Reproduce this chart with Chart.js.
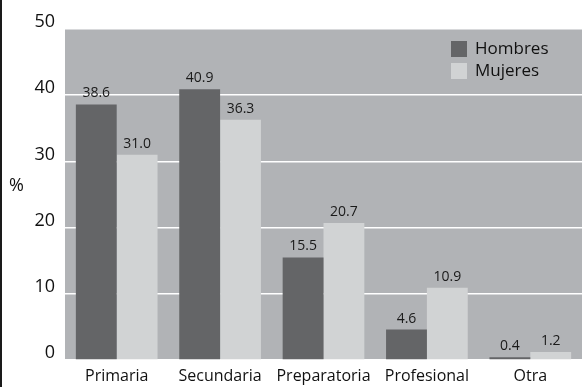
<!DOCTYPE html>
<html lang="es">
  <head>
    <meta charset="utf-8" />
    <title>Escolaridad</title>
    <script src="https://cdn.jsdelivr.net/npm/chart.js@4/dist/chart.umd.min.js"></script>
    <style>
      body { margin: 0; background: #fff; }
      .wrap { position: relative; width: 582px; height: 387px; }
      .edge { position: absolute; left: 0; top: 0; width: 2px; height: 387px; background: #1a1a1a; }
    </style>
  </head>
  <body>
    <div class="wrap">
      <canvas id="barChart" width="582" height="387"></canvas>
      <div class="edge"></div>
    </div>
    <script>
      // datos
      const categorias = ["Primaria", "Secundaria", "Preparatoria", "Profesional", "Otra"];
      const hombres = [38.6, 40.9, 15.5, 4.6, 0.4];
      const mujeres = [31.0, 36.3, 20.7, 10.9, 1.2];
      const yTicks = [0, 10, 20, 30, 40, 50];

      const FONT = "'Open Sans', sans-serif";
      const OSCURO = "#646567";
      const CLARO = "#d1d3d4";
      const FONDO = "#b1b3b6";

      // fondo gris del area de la grafica
      const fondo = {
        id: "fondo",
        beforeDraw(chart) {
          const { ctx, chartArea: a } = chart;
          ctx.save();
          ctx.fillStyle = FONDO;
          ctx.fillRect(a.left, a.top, a.right - a.left, a.bottom - a.top);
          ctx.restore();
        },
      };

      // valores encima de las barras, leyenda y "%"
      const etiquetas = {
        id: "etiquetas",
        afterDatasetsDraw(chart) {
          const { ctx, chartArea: a } = chart;
          ctx.save();
          ctx.font = "14px " + FONT;
          ctx.fillStyle = "#1a1a1a";
          ctx.textAlign = "center";
          ctx.textBaseline = "middle";
          chart.data.datasets.forEach((ds, i) => {
            chart.getDatasetMeta(i).data.forEach((bar, j) => {
              ctx.fillText(ds.data[j].toFixed(1), bar.x, bar.y - 11);
            });
          });

          // leyenda
          ctx.textAlign = "left";
          ctx.font = "17px " + FONT;
          chart.data.datasets.forEach((ds, i) => {
            const x = a.right - 131;
            const y = 41 + i * 22;
            ctx.fillStyle = ds.backgroundColor;
            ctx.fillRect(x, y, 16, 16);
            ctx.fillStyle = "#111";
            ctx.fillText(ds.label, x + 24, y + 8);
          });

          // titulo del eje
          const ys = chart.scales.y;
          ctx.font = "18px " + FONT;
          ctx.fillText("%", 9, ys.getPixelForValue(25) - 9);
          ctx.restore();
        },
      };

      const ctx = document.getElementById("barChart").getContext("2d");
      new Chart(ctx, {
        type: "bar",
        data: {
          labels: categorias,
          datasets: [
            { label: "Hombres", data: hombres, backgroundColor: OSCURO },
            { label: "Mujeres", data: mujeres, backgroundColor: CLARO },
          ],
        },
        options: {
          responsive: false,
          animation: false,
          layout: { padding: { top: 29, right: 0, left: 0, bottom: 0 } },
          datasets: { bar: { categoryPercentage: 0.79, barPercentage: 1.0 } },
          plugins: { legend: { display: false }, tooltip: { enabled: false } },
          scales: {
            x: {
              grid: { display: false, drawTicks: false },
              border: { display: false },
              ticks: { color: "#111", font: { family: FONT, size: 16 }, padding: 7 },
              afterFit(scale) { scale.height = 27; },
            },
            y: {
              min: 0,
              max: 50,
              afterBuildTicks(scale) { scale.ticks = yTicks.map((v) => ({ value: v })); },
              grid: { color: "#ffffff", lineWidth: 1.5, drawTicks: false },
              border: { display: false },
              ticks: { color: "#111", font: { family: FONT, size: 18 }, padding: 10, labelOffset: -7 },
              afterFit(scale) { scale.width = 65; },
            },
          },
        },
        plugins: [fondo, etiquetas],
      });
    </script>
  </body>
</html>
